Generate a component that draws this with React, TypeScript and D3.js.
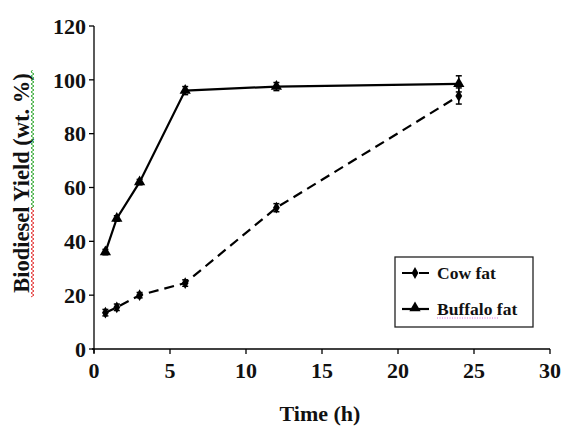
import React from "react";
import * as d3 from "d3";

const times = [0.75, 1.5, 3, 6, 12, 24];
const cowFat = [13.5, 15.5, 20, 24.5, 52.5, 94];
const cowErr = [1.2, 1.2, 1, 1.2, 1.5, 3];
const buffaloFat = [36, 48.5, 62, 96, 97.5, 98.5];
const buffaloErr = [1, 1, 1, 1.5, 1.5, 3];
const xTicks = [0, 5, 10, 15, 20, 25, 30];
const yTicks = [0, 20, 40, 60, 80, 100, 120];
const seriesNames = ["Cow fat", "Buffalo fat"];

const W = 567, H = 427;
const m = { left: 94, right: 17, top: 26, bottom: 78 };
const FONT = "Liberation Serif, Times New Roman, DejaVu Serif, serif";

const T = (props: any) => (
  <text {...props} style={{ fontFamily: FONT, fontWeight: 700 }} fill="#111" />
);

export default function App() {
  const x = d3.scaleLinear().domain([0, 30]).range([m.left, W - m.right]);
  const y = d3.scaleLinear().domain([0, 120]).range([H - m.bottom, m.top]);
  const line = d3.line<number>().x((_, i) => x(times[i])).y((d) => y(d));
  const diamond = d3.symbol().type(d3.symbolDiamond).size(40)()!;
  const tri = d3.symbol().type(d3.symbolTriangle).size(55)()!;

  const squiggle = (x0: number, y0: number, y1: number) => {
    let p = `M${x0},${y0}`;
    let k = 0;
    for (let yy = y0; yy < y1; yy += 2) {
      p += `L${x0 + (k % 2 ? 1.5 : -1.5)},${yy + 2}`;
      k++;
    }
    return p;
  };

  const errBars = (vals: number[], errs: number[]) =>
    vals.map((v, i) => (
      <g key={i}>
        <line x1={x(times[i])} x2={x(times[i])} y1={y(v - errs[i])} y2={y(v + errs[i])} stroke="#000" strokeWidth={1.5} />
        <line x1={x(times[i]) - 3} x2={x(times[i]) + 3} y1={y(v - errs[i])} y2={y(v - errs[i])} stroke="#000" strokeWidth={1.5} />
        <line x1={x(times[i]) - 3} x2={x(times[i]) + 3} y1={y(v + errs[i])} y2={y(v + errs[i])} stroke="#000" strokeWidth={1.5} />
      </g>
    ));

  const y0 = y(0);
  return (
    <svg width={W} height={H} style={{ position: "absolute", left: 0, top: 0, background: "#fff" }}>
      <line x1={x(0)} x2={x(0)} y1={y(120)} y2={y0 + 4} stroke="#000" strokeWidth={1.3} />
      <line x1={x(0) - 2} x2={x(30)} y1={y0} y2={y0} stroke="#000" strokeWidth={1.3} />
      {yTicks.map((t) => (
        <g key={t}>
          <line x1={x(0) - 5} x2={x(0)} y1={y(t)} y2={y(t)} stroke="#000" strokeWidth={1.3} />
          <T x={x(0) - 8} y={y(t)} dy="0.35em" textAnchor="end" fontSize={22}>{t}</T>
        </g>
      ))}
      {xTicks.map((t) => (
        <g key={t}>
          <line x1={x(t)} x2={x(t)} y1={y0} y2={y0 + 5} stroke="#000" strokeWidth={1.3} />
          <T x={x(t)} y={y0 + 29} textAnchor="middle" fontSize={22}>{t}</T>
        </g>
      ))}
      <T x={320} y={421} textAnchor="middle" fontSize={22}>Time (h)</T>
      <T transform={`translate(29,183) rotate(-90)`} textAnchor="middle" fontSize={22.5}>Biodiesel Yield (wt. %)</T>
      <path d={squiggle(32.5, 207, 296)} fill="none" stroke="#e02020" strokeWidth={0.9} />
      <path d={squiggle(32.5, 70, 207)} fill="none" stroke="#20a020" strokeWidth={0.9} />

      <path d={line(cowFat)!} fill="none" stroke="#000" strokeWidth={2.2} strokeDasharray="10,6" />
      <path d={line(buffaloFat)!} fill="none" stroke="#000" strokeWidth={2.2} />
      {errBars(cowFat, cowErr)}
      {errBars(buffaloFat, buffaloErr)}
      {cowFat.map((v, i) => (
        <path key={"c" + i} d={diamond} transform={`translate(${x(times[i])},${y(v)})`} fill="#000" />
      ))}
      {buffaloFat.map((v, i) => (
        <path key={"b" + i} d={tri} transform={`translate(${x(times[i])},${y(v)})`} fill="#000" />
      ))}

      <rect x={395} y={257} width={138} height={70} fill="#fff" stroke="#222" strokeWidth={1.3} />
      <line x1={402} x2={429} y1={273} y2={273} stroke="#000" strokeWidth={2.2} strokeDasharray="14,3" />
      <path d={diamond} transform="translate(415,273)" fill="#000" />
      <T x={437} y={273} dy="0.35em" fontSize={17.5}>{seriesNames[0]}</T>
      <line x1={402} x2={429} y1={309} y2={309} stroke="#000" strokeWidth={2.2} />
      <path d={tri} transform="translate(415,308)" fill="#000" />
      <T x={437} y={309} dy="0.35em" fontSize={17.5}>{seriesNames[1]}</T>
      <path d="M437,318 L498,318" stroke="#d040d0" strokeWidth={0.8} strokeDasharray="1,1.5" />
    </svg>
  );
}
